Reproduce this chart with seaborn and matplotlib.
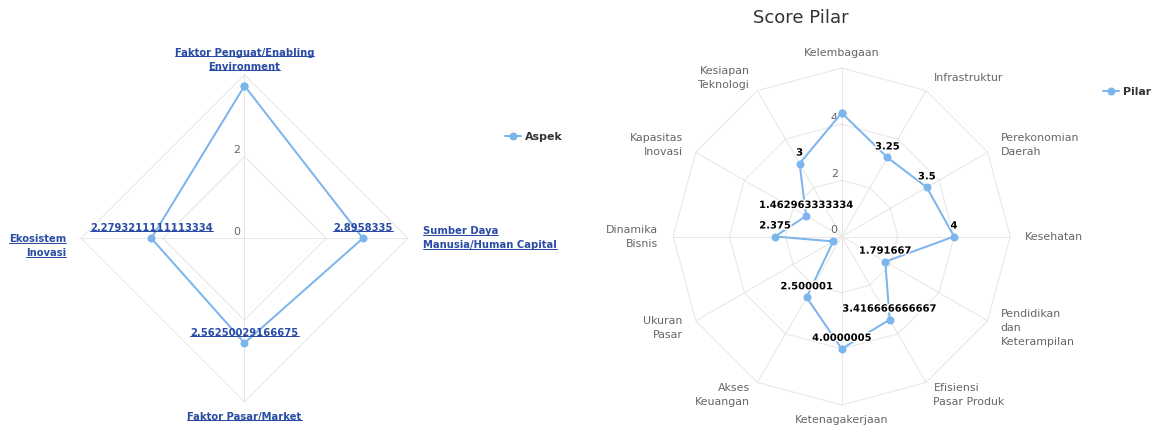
import numpy as np
import matplotlib
matplotlib.use("Agg")
import matplotlib.pyplot as plt
import seaborn as sns
from matplotlib import patheffects
from matplotlib.lines import Line2D

# --- data ---
aspek_labels = ["Faktor Penguat/Enabling\nEnvironment",
                "Sumber Daya\nManusia/Human Capital",
                "Faktor Pasar/Market",
                "Ekosistem\nInovasi"]
aspek_values = [3.73, 2.8958335, 2.56250029166675, 2.2793211111113334]
aspek_shown = [False, True, True, True]
aspek_ticks = [0, 2]
aspek_max = 4

pilar_labels = ["Kelembagaan", "Infrastruktur", "Perekonomian\nDaerah", "Kesehatan",
                "Pendidikan\ndan\nKeterampilan", "Efisiensi\nPasar Produk", "Ketenagakerjaan",
                "Akses\nKeuangan", "Ukuran\nPasar", "Dinamika\nBisnis",
                "Kapasitas\nInovasi", "Kesiapan\nTeknologi"]
pilar_values = [4.4, 3.25, 3.5, 4, 1.791667, 3.416666666667, 4.0000005,
                2.500001, 0.35, 2.375, 1.462963333334, 3]
pilar_shown = [False, True, True, True, True, True, True, True, False, True, True, True]
pilar_ticks = [0, 2, 4]
pilar_max = 6

# --- style ---
W, H = 1152, 430
SERIES = "#7cb5ec"
GRID = "#e6e6e6"
LINK = "#2a4ca5"
PT = 0.72  # points per pixel at 100 dpi

sns.set_theme(style="white")
plt.rcParams["font.family"] = ["DejaVu Sans"]

fig = plt.figure(figsize=(W / 100, H / 100), dpi=100)
fig.patch.set_facecolor("white")
underlined = []


def fmt(v):
    s = str(float(v))
    return s[:-2] if s.endswith(".0") else s


def put_lines(ax, x, y, text, ha, dy=0, color="#666666", size=11, weight="normal",
              link=False, step=14):
    lines = text.split("\n")
    n = len(lines)
    for i, line in enumerate(lines):
        off = ((n - 1) / 2 - i) * step - dy
        t = ax.annotate(line, (x, y), xytext=(0, off), textcoords="offset pixels",
                        ha=ha, va="center", color=color, fontsize=size * PT,
                        fontweight=weight, annotation_clip=False)
        if link:
            underlined.append(t)


def radar(ax, labels, values, shown, ticks, rmax, ppu, name, link=False, dys=None):
    n = len(labels)
    theta = np.arange(n) * 2 * np.pi / n
    sx, cy = np.sin(theta), np.cos(theta)

    # polygon grid + spokes
    for r in ticks[1:] + [rmax]:
        ax.plot(np.append(r * sx, r * sx[0]), np.append(r * cy, r * cy[0]),
                color=GRID, lw=1 * PT, zorder=1)
    for i in range(n):
        ax.plot([0, rmax * sx[i]], [0, rmax * cy[i]], color=GRID, lw=1 * PT, zorder=1)

    # tick labels
    for r in ticks:
        ax.annotate(str(r), (0, r), xytext=(-4, 6.5), textcoords="offset pixels",
                    ha="right", va="center", color="#666666", fontsize=11 * PT)

    # series
    v = np.asarray(values, dtype=float)
    xs = np.append(v * sx, v[0] * sx[0])
    ys = np.append(v * cy, v[0] * cy[0])
    sns.lineplot(x=xs, y=ys, sort=False, estimator=None, ax=ax, color=SERIES,
                 lw=2 * PT, marker="o", markersize=8 * PT, markeredgewidth=0,
                 label=name, zorder=3)

    # data labels
    for i in range(n):
        if not shown[i]:
            continue
        if link:
            t = ax.annotate(fmt(values[i]), (v[i] * sx[i], v[i] * cy[i]), xytext=(0, 10.5),
                            textcoords="offset pixels", ha="center", va="center",
                            color=LINK, fontsize=10 * PT, fontweight="bold", zorder=4)
            underlined.append(t)
        else:
            t = ax.annotate(fmt(values[i]), (v[i] * sx[i], v[i] * cy[i]), xytext=(0, 11),
                            textcoords="offset pixels", ha="center", va="center",
                            color="black", fontsize=10 * PT, fontweight="bold", zorder=4)
            t.set_path_effects([patheffects.withStroke(linewidth=2, foreground="white")])

    # category labels
    rl = rmax + 15 / ppu
    for i in range(n):
        ha = "left" if sx[i] > 0.01 else ("right" if sx[i] < -0.01 else "center")
        dy = dys[i] if dys else 0
        if link:
            put_lines(ax, rl * sx[i], rl * cy[i], labels[i], ha, dy=dy, color=LINK,
                      size=10, weight="bold", link=True)
        else:
            put_lines(ax, rl * sx[i], rl * cy[i], labels[i], ha, dy=dy)


def make_ax(left, right, cx, cyy, ppu):
    ax = fig.add_axes([left / W, 0, (right - left) / W, 1])
    ax.set_xlim((left - cx) / ppu, (right - cx) / ppu)
    ax.set_ylim(-(H - cyy) / ppu, cyy / ppu)
    ax.axis("off")
    return ax


ax1 = make_ax(0, 480, 244.5, 238.3, 163.5 / aspek_max)
radar(ax1, aspek_labels, aspek_values, aspek_shown, aspek_ticks, aspek_max,
      163.5 / aspek_max, "Aspek", link=True, dys=[0, 0, 0, 8])

ax2 = make_ax(590, 1100, 841.7, 236.5, 168.5 / pilar_max)
radar(ax2, pilar_labels, pilar_values, pilar_shown, pilar_ticks, pilar_max,
      168.5 / pilar_max, "Pilar")

fig.text(801 / W, 1 - 18 / H, "Score Pilar", ha="center", va="center",
         fontsize=18 * PT, color="#333333")

for ax, (lx, ly) in [(ax1, (505, 137)), (ax2, (1103, 92))]:
    leg = ax.legend(loc="center left", bbox_to_anchor=(lx / W, 1 - ly / H),
                    bbox_transform=fig.transFigure, frameon=False, borderpad=0,
                    borderaxespad=0, handlelength=1.45, handletextpad=0.4,
                    prop={"weight": "bold", "size": 11 * PT})
    for txt in leg.get_texts():
        txt.set_color("#333333")

# underline the link-styled texts
fig.canvas.draw()
renderer = fig.canvas.get_renderer()
inv = fig.transFigure.inverted()
for t in underlined:
    bb = t.get_window_extent(renderer)
    (x0, y0), (x1, _) = inv.transform([(bb.x0, bb.y0 + 1.5), (bb.x1, bb.y0 + 1.5)])
    fig.add_artist(Line2D([x0, x1], [y0, y0], transform=fig.transFigure,
                          color=LINK, lw=1 * PT))

fig.savefig("out.png", dpi=100, facecolor="white")
